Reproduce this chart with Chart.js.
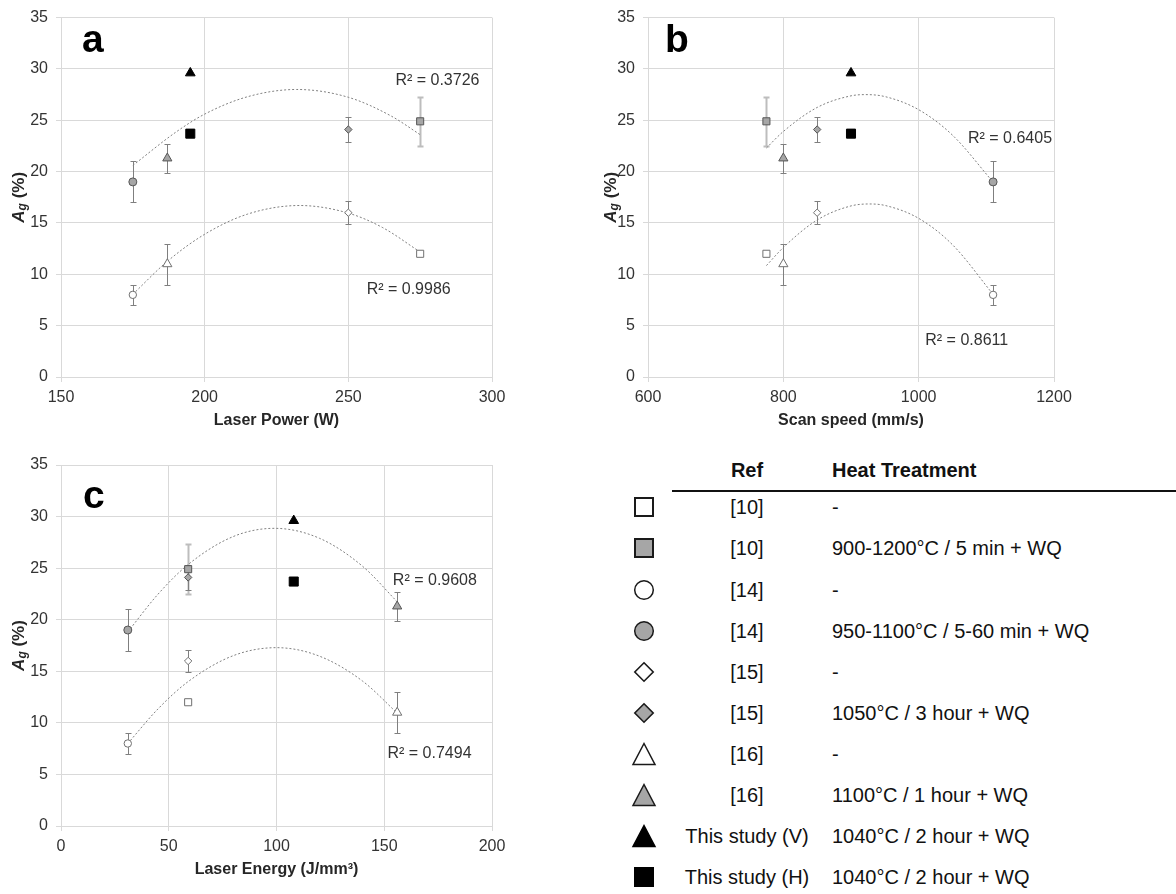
<!DOCTYPE html>
<html>
<head>
<meta charset="utf-8">
<script src="https://cdn.jsdelivr.net/npm/chart.js@4.4.0/dist/chart.umd.min.js"></script>
<style>
  body { margin: 0; background: #fff; width: 1176px; height: 894px; overflow: hidden; position: relative;
         font-family: "Liberation Sans", Arial, sans-serif; color: #111; }
  canvas { position: absolute; }
  .lg { position: absolute; height: 40px; line-height: 40px; font-size: 20px; white-space: nowrap; }
  .hdr { font-weight: bold; }
  .ref { width: 160px; margin-left: -80px; text-align: center; }
  .sym { position: absolute; width: 28px; height: 28px; }
  #rule { position: absolute; left: 672px; top: 490px; width: 504px; height: 2px; background: #111; }
</style>
</head>
<body>
<canvas id="chartA" style="left:0;top:0" width="570" height="440"></canvas>
<canvas id="chartB" style="left:580px;top:0" width="596" height="440"></canvas>
<canvas id="chartC" style="left:0;top:430px" width="570" height="464"></canvas>
<div id="legend"></div>

<script>
// ---- data ----
const legendRefs = ["[10]", "[10]", "[14]", "[14]", "[15]", "[15]", "[16]", "[16]", "This study (V)", "This study (H)"];
const legendHeat = ["-", "900-1200°C / 5 min + WQ", "-", "950-1100°C / 5-60 min + WQ", "-",
                    "1050°C / 3 hour + WQ", "-", "1100°C / 1 hour + WQ", "1040°C / 2 hour + WQ", "1040°C / 2 hour + WQ"];

const agValues = [12, 24.9, 8, 19, 16, 24.1, 11, 21.3, 29.6, 23.7];
const agErrors = [0, 2.4, 1, 2, 1.1, 1.2, 2, 1.4, 0, 0];

const laserPower = [275, 275, 175, 175, 250, 250, 187, 187, 195, 195];
const scanSpeed = [775, 775, 1110, 1110, 850, 850, 800, 800, 900, 900];
const laserEnergy = [59, 59, 31, 31, 59, 59, 156, 156, 108, 108];

const agTicks = [0, 5, 10, 15, 20, 25, 30, 35];
const powerTicks = [150, 200, 250, 300];
const speedTicks = [600, 800, 1000, 1200];
const energyTicks = [0, 50, 100, 150, 200];

// dotted trendlines, points
const powerTrendHtX = [175, 190, 200, 215, 232, 250, 265, 275];
const powerTrendHtY = [20.6, 23.85, 25.6, 27.3, 28.0, 27.24, 25.4, 23.6];
const powerTrendAbX = [175, 187, 200, 215, 233, 250, 262, 275];
const powerTrendAbY = [8.05, 11.26, 13.9, 15.87, 16.7, 15.96, 14.54, 12.17];
const speedTrendHtX = [775, 800, 850, 900, 922, 950, 1000, 1050, 1110];
const speedTrendHtY = [22.3, 23.91, 26.25, 27.38, 27.5, 27.31, 26.03, 23.55, 18.98];
const speedTrendAbX = [775, 800, 850, 900, 927, 950, 1000, 1050, 1110];
const speedTrendAbY = [10.85, 12.61, 15.29, 16.66, 16.85, 16.71, 15.45, 12.88, 8.05];
const energyTrendHtX = [31, 45, 59, 80, 99, 120, 140, 156];
const energyTrendHtY = [18.82, 22.47, 25.35, 28.07, 28.86, 27.89, 25.17, 21.74];
const energyTrendAbX = [31, 45, 59, 80, 100, 120, 140, 156];
const energyTrendAbY = [8.0, 11.35, 14.0, 16.52, 17.29, 16.46, 14.04, 10.95];

const r2Power = ["R² = 0.3726", "R² = 0.9986"];
const r2Speed = ["R² = 0.6405", "R² = 0.8611"];
const r2Energy = ["R² = 0.9608", "R² = 0.7494"];

// ---- marker styles ----
const pointStyles = ["rect", "rect", "circle", "circle", "rectRot", "rectRot", "triangle", "triangle", "triangle", "rect"];
const pointFills = ["#ffffff", "#a6a6a6", "#ffffff", "#a6a6a6", "#ffffff", "#a6a6a6", "#ffffff", "#a6a6a6", "#000000", "#000000"];
const pointBorders = ["#707070", "#555555", "#707070", "#555555", "#707070", "#555555", "#707070", "#555555", "#000000", "#000000"];
const pointSizes = [5, 5, 3.7, 4, 3.7, 3.7, 5.3, 5.3, 5.6, 6.4];
const errColors = ["#7f7f7f", "#bdbdbd", "#7f7f7f", "#7f7f7f", "#7f7f7f", "#7f7f7f", "#7f7f7f", "#7f7f7f", "#7f7f7f", "#7f7f7f"];
const errWidths = [1, 2, 1, 1, 1, 1, 1, 1, 1, 1];

const FONT = "'Liberation Sans', Arial, sans-serif";
Chart.defaults.font.family = FONT;
Chart.defaults.color = "#333333";

const errorBars = {
    id: "errorBars",
    beforeDatasetsDraw(chart) {
        const ctx = chart.ctx;
        const yScale = chart.scales.y;
        const meta = chart.getDatasetMeta(0);
        ctx.save();
        meta.data.forEach((pt, i) => {
            const err = agErrors[i];
            if (!err) return;
            const x = Math.round(pt.x) + 0.5;
            const top = Math.round(yScale.getPixelForValue(agValues[i] + err)) + 0.5;
            const bottom = Math.round(yScale.getPixelForValue(agValues[i] - err)) + 0.5;
            ctx.strokeStyle = errColors[i];
            ctx.lineWidth = errWidths[i];
            ctx.beginPath();
            ctx.moveTo(x, top); ctx.lineTo(x, bottom);
            ctx.moveTo(x - 3, top); ctx.lineTo(x + 3, top);
            ctx.moveTo(x - 3, bottom); ctx.lineTo(x + 3, bottom);
            ctx.stroke();
        });
        ctx.restore();
    }
};

// panel letter, y-axis title with subscript, R² labels
const decor = {
    id: "decor",
    afterDraw(chart, args, opts) {
        const ctx = chart.ctx;
        const area = chart.chartArea;
        ctx.save();
        ctx.fillStyle = "#000";
        ctx.font = "bold 39px " + FONT;
        ctx.textBaseline = "alphabetic";
        ctx.fillText(opts.letter, opts.letterAt[0], opts.letterAt[1]);

        // y title: A_g (%)
        const parts = [
            { t: "A", f: "italic bold 17px " + FONT, dy: 0 },
            { t: "g", f: "italic bold 12px " + FONT, dy: 4 },
            { t: " (%)", f: "bold 17px " + FONT, dy: 0 }
        ];
        let total = 0;
        parts.forEach(p => { ctx.font = p.f; p.w = ctx.measureText(p.t).width; total += p.w; });
        ctx.translate(opts.yTitleX, (area.top + area.bottom) / 2);
        ctx.rotate(-Math.PI / 2);
        ctx.fillStyle = "#262626";
        ctx.textBaseline = "middle";
        let cx = -total / 2;
        parts.forEach(p => { ctx.font = p.f; ctx.fillText(p.t, cx, p.dy); cx += p.w; });
        ctx.setTransform(1, 0, 0, 1, 0, 0);

        ctx.font = "16px " + FONT;
        ctx.fillStyle = "#333333";
        ctx.textAlign = "center";
        ctx.textBaseline = "middle";
        opts.r2.forEach((txt, i) => {
            const px = chart.scales.x.getPixelForValue(opts.r2At[i][0]);
            const py = chart.scales.y.getPixelForValue(opts.r2At[i][1]);
            ctx.fillText(txt, px, py);
        });
        ctx.restore();
    }
};

const trendStyle = {
    showLine: true, pointRadius: 0, borderColor: "#808080", borderWidth: 1,
    borderDash: [2, 2], cubicInterpolationMode: "monotone", fill: false, order: 2
};

const makePanel = (p) => {
    const markers = {
        data: p.xs.map((x, i) => ({ x: x, y: agValues[i] })),
        pointStyle: pointStyles,
        pointRadius: pointSizes,
        pointBackgroundColor: pointFills,
        pointBorderColor: pointBorders,
        pointBorderWidth: 1,
        order: 0
    };
    const trends = p.trends.map(([tx, ty]) => Object.assign({
        data: tx.map((x, i) => ({ x: x, y: ty[i] }))
    }, trendStyle));

    new Chart(document.getElementById(p.id), {
        type: "scatter",
        data: { datasets: [markers, ...trends] },
        options: {
            responsive: false,
            animation: false,
            layout: { padding: p.padding },
            plugins: {
                legend: { display: false },
                tooltip: { enabled: false },
                decor: { letter: p.letter, letterAt: p.letterAt, yTitleX: p.yTitleX, r2: p.r2, r2At: p.r2At }
            },
            scales: {
                x: {
                    type: "linear",
                    min: p.xTicks[0], max: p.xTicks[p.xTicks.length - 1],
                    ticks: { stepSize: p.xTicks[1] - p.xTicks[0], padding: 6, maxRotation: 0,
                             font: { size: 16 }, callback: v => String(v) },
                    grid: { color: "#d9d9d9", tickLength: 5 },
                    border: { color: "#d9d9d9" },
                    title: { display: true, text: p.xTitle, color: "#262626",
                             font: { size: 16, weight: "bold" }, padding: { top: 0, bottom: p.titlePad } },
                    afterFit: s => { s.height = p.xHeight; }
                },
                y: {
                    min: agTicks[0], max: agTicks[agTicks.length - 1],
                    ticks: { stepSize: agTicks[1] - agTicks[0], padding: 8, font: { size: 16 } },
                    grid: { color: "#d9d9d9", tickLength: 5 },
                    border: { color: "#d9d9d9" },
                    afterFit: s => { s.width = p.yWidth; }
                }
            }
        },
        plugins: [errorBars, decor]
    });
};

makePanel({
    id: "chartA", xs: laserPower, xTicks: powerTicks, xTitle: "Laser Power (W)",
    trends: [[powerTrendHtX, powerTrendHtY], [powerTrendAbX, powerTrendAbY]],
    r2: r2Power, r2At: [[281, 28.9], [271, 8.5]],
    letter: "a", letterAt: [82, 52], yTitleX: 19,
    padding: { top: 17, right: 78, bottom: 0, left: 0 }, yWidth: 61, xHeight: 63, titlePad: 9.4
});
makePanel({
    id: "chartB", xs: scanSpeed, xTicks: speedTicks, xTitle: "Scan speed (mm/s)",
    trends: [[speedTrendHtX, speedTrendHtY], [speedTrendAbX, speedTrendAbY]],
    r2: r2Speed, r2At: [[1135, 23.2], [1071, 3.5]],
    letter: "b", letterAt: [85, 52], yTitleX: 31,
    padding: { top: 17, right: 122, bottom: 0, left: 0 }, yWidth: 68, xHeight: 63, titlePad: 9.4
});
makePanel({
    id: "chartC", xs: laserEnergy, xTicks: energyTicks, xTitle: "Laser Energy (J/mm³)",
    trends: [[energyTrendHtX, energyTrendHtY], [energyTrendAbX, energyTrendAbY]],
    r2: r2Energy, r2At: [[173.5, 23.75], [171, 7]],
    letter: "c", letterAt: [83, 78], yTitleX: 19,
    padding: { top: 35, right: 78, bottom: 0, left: 0 }, yWidth: 61, xHeight: 68, titlePad: 14.4
});

// ---- legend table ----
const symbolSvg = (i) => {
    const fill = pointFills[i];
    const st = pointFills[i] === "#000000" ? "#000" : "#1a1a1a";
    switch (pointStyles[i]) {
        case "rect":
            return `<rect x="5" y="5" width="18" height="18" fill="${fill}" stroke="${st}" stroke-width="2"/>`;
        case "circle":
            return `<circle cx="14" cy="14" r="9.3" fill="${fill}" stroke="${st}" stroke-width="1.5"/>`;
        case "rectRot":
            return `<polygon points="14,4.8 23.2,14 14,23.2 4.8,14" fill="${fill}" stroke="${st}" stroke-width="1.6"/>`;
        default:
            return `<polygon points="14,3.5 25,24.5 3,24.5" fill="${fill}" stroke="${st}" stroke-width="1.5"/>`;
    }
};

const legend = document.getElementById("legend");
let html = `<div class="lg hdr ref" style="left:747px;top:450px">Ref</div>` +
           `<div class="lg hdr" style="left:832px;top:450px">Heat Treatment</div>` +
           `<div id="rule"></div>`;
legendRefs.forEach((ref, i) => {
    const cy = 507.3 + i * 41.1;
    html += `<svg class="sym" style="left:630px;top:${cy - 14}px" viewBox="0 0 28 28">${symbolSvg(i)}</svg>`;
    html += `<div class="lg ref" style="left:747px;top:${cy - 20}px">${ref}</div>`;
    html += `<div class="lg" style="left:832px;top:${cy - 20}px">${legendHeat[i]}</div>`;
});
legend.innerHTML = html;
</script>
</body>
</html>
